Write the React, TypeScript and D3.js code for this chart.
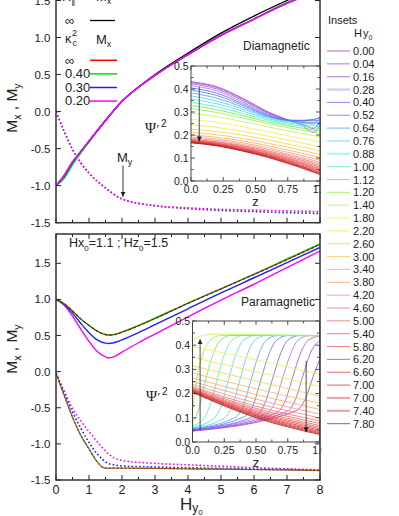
import React from 'react';
import * as d3 from 'd3';

// ---- main panels: Mx, My vs Hy0 ----
const topMxH = [0, 0.25, 0.5, 0.75, 1, 1.5, 2, 2.5, 3, 4, 5, 6, 7, 8];
const topMxBlack = [-1.0, -0.86, -0.68, -0.54, -0.40, -0.12, 0.14, 0.33, 0.50, 0.79, 1.06, 1.29, 1.50, 1.70];
const topMxRed = [-1.0, -0.87, -0.69, -0.54, -0.40, -0.12, 0.14, 0.33, 0.49, 0.77, 1.03, 1.25, 1.47, 1.65];
const topMxGreen = [-1.0, -0.90, -0.72, -0.56, -0.41, -0.12, 0.14, 0.33, 0.49, 0.77, 1.03, 1.25, 1.47, 1.65];
const topMxBlue = [-1.0, -0.87, -0.69, -0.54, -0.40, -0.12, 0.14, 0.33, 0.49, 0.77, 1.03, 1.25, 1.46, 1.64];
const topMxMagenta = [-1.0, -0.86, -0.68, -0.54, -0.40, -0.12, 0.14, 0.33, 0.49, 0.77, 1.03, 1.25, 1.46, 1.64];

const topMyH = [0, 0.25, 0.5, 0.75, 1, 1.5, 2, 3, 4, 5, 6, 7, 8];
const topMyMagenta = [0, -0.27, -0.51, -0.69, -0.83, -1.03, -1.18, -1.27, -1.30, -1.32, -1.33, -1.34, -1.35];
const topMyDark = [0, -0.27, -0.51, -0.69, -0.83, -1.03, -1.18, -1.27, -1.31, -1.335, -1.35, -1.365, -1.375];

const botMxH = [0, 0.25, 0.5, 0.75, 1, 1.25, 1.5, 1.6, 1.75, 2, 2.5, 3, 4, 5, 6, 7, 8];
const botMxGreen = [1.0, 0.94, 0.84, 0.73, 0.64, 0.56, 0.515, 0.51, 0.515, 0.55, 0.64, 0.74, 0.95, 1.15, 1.35, 1.56, 1.77];
const botMxRed = [1.0, 0.94, 0.84, 0.73, 0.64, 0.56, 0.512, 0.505, 0.51, 0.545, 0.635, 0.735, 0.945, 1.145, 1.345, 1.55, 1.76];
const botMxBlue = [1.0, 0.93, 0.81, 0.67, 0.54, 0.44, 0.395, 0.39, 0.40, 0.44, 0.54, 0.65, 0.87, 1.09, 1.30, 1.51, 1.72];
const botMxMagenta = [1.0, 0.92, 0.77, 0.59, 0.42, 0.28, 0.205, 0.19, 0.205, 0.27, 0.40, 0.52, 0.76, 0.99, 1.21, 1.44, 1.67];

const botMyH = [0, 0.25, 0.5, 0.75, 1, 1.25, 1.4, 1.5, 1.75, 2, 3, 4, 5, 6, 7, 8];
const botMyGreen = [-0.02, -0.33, -0.63, -0.88, -1.07, -1.25, -1.32, -1.335, -1.335, -1.335, -1.34, -1.345, -1.35, -1.355, -1.36, -1.37];
const botMyBlue = [-0.02, -0.30, -0.56, -0.78, -0.98, -1.14, -1.21, -1.25, -1.29, -1.305, -1.32, -1.33, -1.34, -1.35, -1.355, -1.365];
const botMyMagenta = [-0.02, -0.27, -0.51, -0.68, -0.83, -0.97, -1.05, -1.10, -1.19, -1.23, -1.27, -1.29, -1.31, -1.33, -1.345, -1.36];

const kappaLabels = ['\u221E', '0.40', '0.30', '0.20'];
const kappaColors = ['#ff0000', '#00e000', '#2020ff', '#ff00ff'];

// ---- insets: Psi'^2 vs z ----
const legendHy = ['0.00', '0.04', '0.16', '0.28', '0.40', '0.52', '0.64', '0.76', '0.88', '1.00', '1.12', '1.20', '1.40', '1.80', '2.20', '2.60', '3.00', '3.40', '3.80', '4.20', '4.60', '5.00', '5.40', '5.80', '6.20', '6.60', '7.00', '7.00', '7.40', '7.80'];
const insetColors = ['#a040b0', '#b040e0', '#9050e0', '#9a7af0', '#6a5af0', '#4a7af0', '#4aa0f0', '#50c8f0', '#40e0e8', '#50f0a0', '#60e860', '#90f040', '#c0f050', '#f0f050', '#f8e840', '#f8d040', '#f8c040', '#f8a860', '#f89870', '#f88880', '#f07070', '#f06060', '#f05858', '#f05050', '#e84040', '#e03838', '#d83030', '#d02828', '#c82020', '#b01818'];

const diaZ = [0, 0.2, 0.4, 0.6, 0.75, 0.85, 0.95, 1.0];
const diaCurves = [
  [0.432, 0.410, 0.360, 0.300, 0.266, 0.245, 0.212, 0.245],
  [0.428, 0.406, 0.356, 0.297, 0.265, 0.250, 0.228, 0.262],
  [0.423, 0.400, 0.350, 0.293, 0.264, 0.256, 0.250, 0.275],
  [0.415, 0.392, 0.343, 0.289, 0.264, 0.262, 0.266, 0.280],
  [0.405, 0.382, 0.336, 0.285, 0.265, 0.264, 0.268, 0.275],
  [0.395, 0.372, 0.329, 0.282, 0.264, 0.262, 0.262, 0.265],
  [0.383, 0.360, 0.321, 0.279, 0.262, 0.258, 0.255, 0.255],
  [0.370, 0.348, 0.313, 0.275, 0.258, 0.252, 0.248, 0.247],
  [0.356, 0.336, 0.304, 0.270, 0.253, 0.246, 0.240, 0.238],
  [0.342, 0.323, 0.294, 0.264, 0.247, 0.239, 0.232, 0.229],
  [0.328, 0.310, 0.284, 0.257, 0.240, 0.231, 0.223, 0.219],
  [0.315, 0.298, 0.274, 0.249, 0.232, 0.222, 0.213, 0.208],
  [0.295, 0.280, 0.258, 0.235, 0.218, 0.207, 0.197, 0.192],
  [0.268, 0.255, 0.236, 0.214, 0.197, 0.186, 0.175, 0.169],
  [0.245, 0.233, 0.216, 0.195, 0.178, 0.167, 0.155, 0.149],
  [0.226, 0.215, 0.199, 0.178, 0.161, 0.149, 0.137, 0.130],
  [0.211, 0.201, 0.185, 0.164, 0.147, 0.135, 0.122, 0.115],
  [0.200, 0.190, 0.174, 0.153, 0.135, 0.122, 0.109, 0.102],
  [0.192, 0.182, 0.166, 0.144, 0.125, 0.112, 0.098, 0.091],
  [0.186, 0.176, 0.159, 0.137, 0.117, 0.104, 0.089, 0.082],
  [0.182, 0.171, 0.154, 0.131, 0.111, 0.097, 0.082, 0.074],
  [0.179, 0.168, 0.150, 0.126, 0.105, 0.091, 0.075, 0.067],
  [0.177, 0.165, 0.147, 0.122, 0.100, 0.085, 0.069, 0.061],
  [0.175, 0.163, 0.144, 0.118, 0.096, 0.080, 0.063, 0.055],
  [0.173, 0.161, 0.141, 0.115, 0.092, 0.076, 0.058, 0.050],
  [0.171, 0.159, 0.139, 0.112, 0.088, 0.071, 0.053, 0.045],
  [0.170, 0.157, 0.136, 0.109, 0.085, 0.067, 0.048, 0.040],
  [0.169, 0.156, 0.134, 0.107, 0.082, 0.064, 0.045, 0.036],
  [0.167, 0.154, 0.132, 0.104, 0.079, 0.061, 0.041, 0.032],
  [0.166, 0.153, 0.130, 0.102, 0.076, 0.058, 0.038, 0.028],
];

// [z, psi'^2] points for each Hy0 in the paramagnetic inset
const paraCurves: [number, number][][] = [
  [[0, 0.045], [0.82, 0.13], [0.89, 0.18], [0.95, 0.27], [1, 0.34]],
  [[0, 0.046], [0.74, 0.125], [0.81, 0.175], [0.87, 0.275], [0.93, 0.37], [1, 0.42]],
  [[0, 0.048], [0.66, 0.12], [0.73, 0.17], [0.79, 0.27], [0.85, 0.365], [0.91, 0.42], [1, 0.438]],
  [[0, 0.05], [0.58, 0.115], [0.65, 0.165], [0.71, 0.265], [0.77, 0.36], [0.83, 0.42], [0.92, 0.44], [1, 0.44]],
  [[0, 0.05], [0.5, 0.11], [0.57, 0.16], [0.63, 0.26], [0.69, 0.36], [0.75, 0.42], [0.84, 0.44], [1, 0.44]],
  [[0, 0.053], [0.41, 0.105], [0.48, 0.155], [0.54, 0.26], [0.6, 0.36], [0.66, 0.42], [0.75, 0.44], [1, 0.44]],
  [[0, 0.055], [0.33, 0.1], [0.4, 0.15], [0.46, 0.255], [0.52, 0.36], [0.58, 0.42], [0.67, 0.44], [1, 0.44]],
  [[0, 0.058], [0.24, 0.095], [0.31, 0.145], [0.37, 0.25], [0.43, 0.36], [0.49, 0.42], [0.58, 0.44], [1, 0.44]],
  [[0, 0.062], [0.15, 0.09], [0.22, 0.14], [0.28, 0.25], [0.34, 0.36], [0.4, 0.42], [0.49, 0.44], [1, 0.44]],
  [[0, 0.068], [0.08, 0.09], [0.13, 0.14], [0.19, 0.25], [0.25, 0.36], [0.31, 0.42], [0.4, 0.44], [1, 0.44]],
  [[0, 0.08], [0.04, 0.12], [0.1, 0.25], [0.16, 0.36], [0.22, 0.42], [0.3, 0.44], [1, 0.44]],
  [[0, 0.13], [0.03, 0.25], [0.08, 0.36], [0.14, 0.42], [0.22, 0.44], [0.5, 0.443], [1, 0.44]],
  [[0, 0.42], [0.08, 0.44], [0.18, 0.446], [0.4, 0.443], [0.7, 0.44], [1, 0.438]],
  [[0, 0.395], [0.5, 0.34], [1, 0.28]],
  [[0, 0.35], [0.5, 0.29], [1, 0.23]],
  [[0, 0.315], [0.5, 0.252], [1, 0.19]],
  [[0, 0.285], [0.5, 0.22], [1, 0.16]],
  [[0, 0.265], [0.5, 0.196], [1, 0.135]],
  [[0, 0.25], [0.5, 0.177], [1, 0.115]],
  [[0, 0.238], [0.5, 0.161], [1, 0.10]],
  [[0, 0.229], [0.5, 0.148], [1, 0.087]],
  [[0, 0.224], [0.5, 0.139], [1, 0.077]],
  [[0, 0.22], [0.5, 0.132], [1, 0.068]],
  [[0, 0.217], [0.5, 0.126], [1, 0.061]],
  [[0, 0.215], [0.5, 0.121], [1, 0.055]],
  [[0, 0.213], [0.5, 0.116], [1, 0.049]],
  [[0, 0.211], [0.5, 0.112], [1, 0.044]],
  [[0, 0.209], [0.5, 0.108], [1, 0.039]],
  [[0, 0.207], [0.5, 0.104], [1, 0.035]],
  [[0, 0.205], [0.5, 0.100], [1, 0.031]],
];

const FONT = 'Liberation Sans, Arial, sans-serif';
const INK = '#222';

const x = d3.scaleLinear().domain([0, 8]).range([56, 320]);
const yTop = d3.scaleLinear().domain([-1.5, 1.5]).range([222.7, 0.5]);
const yBot = d3.scaleLinear().domain([-1.5, 1.5]).range([480, 263.3]);

const zDia = d3.scaleLinear().domain([0, 1]).range([191, 320]);
const pDia = d3.scaleLinear().domain([0, 0.5]).range([181, 66]);
const zPara = d3.scaleLinear().domain([0, 1]).range([192.5, 319.5]);
const pPara = d3.scaleLinear().domain([0, 0.5]).range([442, 321]);

function path(xs: number[], ys: number[], sx: any, sy: any) {
  return d3.line<number>()
    .x((_, i) => sx(xs[i]))
    .y((d) => sy(d))
    .curve(d3.curveMonotoneX)(ys) || '';
}

function pairPath(pts: [number, number][], sx: any, sy: any) {
  return d3.line<[number, number]>()
    .x((d) => sx(d[0]))
    .y((d) => sy(d[1]))
    .curve(d3.curveMonotoneX)(pts) || '';
}

function MainAxes({ y, top, bottom, labels }: { y: any; top: number; bottom: number; labels: boolean }) {
  const yt = [-1.5, -1, -0.5, 0, 0.5, 1, 1.5];
  const xMajor = x.ticks(8);
  const xMinor = x.ticks(16);
  return (
    <g fontFamily={FONT} fill={INK}>
      {yt.map((v) => (
        <g key={v}>
          <line x1={56} x2={61} y1={y(v)} y2={y(v)} stroke={INK} strokeWidth={1} />
          <line x1={320} x2={315} y1={y(v)} y2={y(v)} stroke={INK} strokeWidth={1} />
          <text x={50.5} y={y(v) + 4} fontSize={11.5} textAnchor="end">{v.toFixed(1)}</text>
        </g>
      ))}
      {xMinor.map((v) => {
        const len = xMajor.includes(v) ? 5 : 3;
        return (
          <g key={v}>
            <line x1={x(v)} x2={x(v)} y1={bottom} y2={bottom - len} stroke={INK} strokeWidth={1} />
            <line x1={x(v)} x2={x(v)} y1={top} y2={top + len} stroke={INK} strokeWidth={1} />
          </g>
        );
      })}
      {labels && xMajor.map((v) => (
        <text key={v} x={x(v)} y={bottom + 13.5} fontSize={12.5} textAnchor="middle">{v}</text>
      ))}
      <rect x={56} y={top} width={264} height={bottom - top} fill="none" stroke="#333" strokeWidth={1.5} />
    </g>
  );
}

function InsetAxes({ sz, sp }: { sz: any; sp: any }) {
  const [l, r] = sz.range();
  const [b, t] = sp.range();
  const zMinor = d3.range(0, 1.001, 0.125);
  const pMinor = d3.range(0, 0.501, 0.05);
  const zLab = ['0.0', '0.25', '0.50', '0.75', '1.0'];
  return (
    <g fontFamily={FONT} fill={INK}>
      {zMinor.map((v, i) => {
        const len = i % 2 === 0 ? 4 : 2.5;
        return (
          <g key={v}>
            <line x1={sz(v)} x2={sz(v)} y1={b} y2={b - len} stroke={INK} strokeWidth={0.8} />
            <line x1={sz(v)} x2={sz(v)} y1={t} y2={t + len} stroke={INK} strokeWidth={0.8} />
          </g>
        );
      })}
      {pMinor.map((v, i) => {
        const len = i % 2 === 0 ? 4 : 2.5;
        return (
          <g key={v}>
            <line x1={l} x2={l + len} y1={sp(v)} y2={sp(v)} stroke={INK} strokeWidth={0.8} />
            <line x1={r} x2={r - len} y1={sp(v)} y2={sp(v)} stroke={INK} strokeWidth={0.8} />
          </g>
        );
      })}
      {[0, 0.1, 0.2, 0.3, 0.4, 0.5].map((v) => (
        <text key={v} x={l - 2.5} y={sp(v) + 3.8} fontSize={10.5} textAnchor="end">{v.toFixed(1)}</text>
      ))}
      {[0, 0.25, 0.5, 0.75, 1].map((v, i) => (
        <text key={v} x={sz(v)} y={b + 11.5} fontSize={10.5} textAnchor="middle">{zLab[i]}</text>
      ))}
      <text x={(l + r) / 2} y={b + 25} fontSize={13} textAnchor="middle">z</text>
      <rect x={l} y={t} width={r - l} height={b - t} fill="none" stroke="#444" strokeWidth={1} />
    </g>
  );
}

function PsiLabel({ xPos, yPos }: { xPos: number; yPos: number }) {
  return (
    <text x={xPos} y={yPos} fontSize={15} fontFamily="Liberation Serif, DejaVu Serif, serif" fill={INK}>
      {'\u03A8'}<tspan dx={0.5} fontSize={13}>{'\u2032'}</tspan><tspan dx={1.5} dy={-6} fontSize={10} fontFamily={FONT}>2</tspan>
    </text>
  );
}

function YTitle({ cy }: { cy: number }) {
  return (
    <text transform={`translate(17,${cy}) rotate(-90)`} textAnchor="middle" fontSize={15.5} fontFamily={FONT} fill={INK}>
      M<tspan dy={4} fontSize={10.5}>x</tspan><tspan dy={-4}> , M</tspan><tspan dy={4} fontSize={10.5}>y</tspan>
    </text>
  );
}

export default function App() {
  const dotted = '1.6 2.2';
  return (
    <div style={{ position: 'absolute', left: 0, top: 0 }}>
      <svg width={399} height={516} style={{ display: 'block', background: '#fff' }}>
        <defs>
          <clipPath id="clipTop"><rect x={56} y={-40} width={264} height={262.7} /></clipPath>
          <clipPath id="clipBot"><rect x={56} y={234} width={264} height={246} /></clipPath>
          <clipPath id="clipDia"><rect x={191} y={66} width={129} height={115} /></clipPath>
          <clipPath id="clipPara"><rect x={192.5} y={321} width={127} height={121} /></clipPath>
          <marker id="ah" viewBox="0 0 10 10" refX={10} refY={5} markerWidth={5} markerHeight={6}
            markerUnits="userSpaceOnUse" orient="auto">
            <path d="M0,0L10,5L0,10z" fill="#222" />
          </marker>
        </defs>

        {/* ---------- top panel (diamagnetic) ---------- */}
        <g clipPath="url(#clipTop)" fill="none">
          <path d={path(topMyH, topMyDark, x, yTop)} stroke="#3030a0" strokeWidth={1.6} strokeDasharray={dotted} />
          <path d={path(topMyH, topMyMagenta, x, yTop)} stroke="#ff00ff" strokeWidth={1.6} strokeDasharray={dotted} />
          <path d={path(topMxH, topMxBlack, x, yTop)} stroke="#000" strokeWidth={1.3} />
          <path d={path(topMxH, topMxRed, x, yTop)} stroke={kappaColors[0]} strokeWidth={1.4} />
          <path d={path(topMxH, topMxGreen, x, yTop)} stroke={kappaColors[1]} strokeWidth={1.4} />
          <path d={path(topMxH, topMxBlue, x, yTop)} stroke={kappaColors[2]} strokeWidth={1.4} />
          <path d={path(topMxH, topMxMagenta, x, yTop)} stroke={kappaColors[3]} strokeWidth={1.4} />
        </g>
        <MainAxes y={yTop} top={-40} bottom={222.7} labels={false} />

        {/* legend of the top panel */}
        <g fontFamily={FONT} fill={INK} fontSize={13}>
          <text x={62} y={1}>H<tspan dy={3} fontSize={9}>{'\u2225'}</tspan></text>
          <text x={96} y={1}>M<tspan dy={3} fontSize={9}>x</tspan></text>
          <text x={65} y={24.5}>{'\u221E'}</text>
          <line x1={90} x2={115} y1={20.5} y2={20.5} stroke="#000" strokeWidth={1.3} />
          <text x={65} y={43}>{'\u03BA'}<tspan dx={1} dy={3} fontSize={9}>c</tspan><tspan dx={-5} dy={-10} fontSize={9}>2</tspan></text>
          <text x={96} y={44}>M<tspan dy={3} fontSize={9}>x</tspan></text>
          {kappaLabels.map((lab, i) => (
            <g key={lab}>
              <text x={65} y={64.5 + i * 13.6}>{lab}</text>
              <line x1={90} x2={117} y1={60.3 + i * 13.6} y2={60.3 + i * 13.6} stroke={kappaColors[i]} strokeWidth={1.5} />
            </g>
          ))}
          <text x={243} y={50} fontSize={12}>Diamagnetic</text>
          <text x={117} y={161.5}>M<tspan dy={3} fontSize={9}>y</tspan></text>
          <line x1={x(2.03)} x2={x(2.03)} y1={yTop(-0.73)} y2={yTop(-1.15)} stroke="#222" strokeWidth={0.9} markerEnd="url(#ah)" />
        </g>

        {/* ---------- bottom panel (paramagnetic) ---------- */}
        <g clipPath="url(#clipBot)" fill="none">
          <path d={path(botMyH, botMyMagenta, x, yBot)} stroke="#ff00ff" strokeWidth={1.6} strokeDasharray={dotted} />
          <path d={path(botMyH, botMyBlue, x, yBot)} stroke="#2020ff" strokeWidth={1.6} strokeDasharray={dotted} />
          <path d={path(botMyH, botMyGreen, x, yBot)} stroke="#30a030" strokeWidth={1.3} />
          <path d={path(botMyH, botMyGreen, x, yBot)} stroke="#ff0000" strokeWidth={1.1} strokeDasharray="2 2" />
          <path d={path(botMxH, botMxMagenta, x, yBot)} stroke={kappaColors[3]} strokeWidth={1.4} />
          <path d={path(botMxH, botMxBlue, x, yBot)} stroke={kappaColors[2]} strokeWidth={1.4} />
          <path d={path(botMxH, botMxGreen, x, yBot)} stroke={kappaColors[1]} strokeWidth={1.4} />
          <path d={path(botMxH, botMxRed, x, yBot)} stroke={kappaColors[0]} strokeWidth={1.2} strokeDasharray="3 2" />
          <path d={path(botMxH, botMxRed, x, yBot)} stroke="#222" strokeWidth={0.6} />
        </g>
        <MainAxes y={yBot} top={234} bottom={480} labels={true} />
        <g fontFamily={FONT} fill={INK}>
          <text x={69} y={247} fontSize={12.5}>
            Hx<tspan dy={3.5} fontSize={8}>0</tspan><tspan dy={-3.5}>=1.1 ; Hz</tspan><tspan dy={3.5} fontSize={8}>0</tspan><tspan dy={-3.5}>=1.5</tspan>
          </text>
          <text x={241} y={306} fontSize={12}>Paramagnetic</text>
          <text x={180} y={510} fontSize={17}>H<tspan dy={2} fontSize={12}>y</tspan><tspan dy={3} fontSize={8}>0</tspan></text>
        </g>
        <YTitle cy={108} />
        <YTitle cy={349} />

        {/* ---------- diamagnetic inset ---------- */}
        <rect x={191} y={66} width={129} height={115} fill="#fff" />
        <g clipPath="url(#clipDia)" fill="none">
          {diaCurves.map((c, i) => (
            <path key={i} d={path(diaZ, c, zDia, pDia)} stroke={insetColors[i]} strokeWidth={0.8} />
          ))}
        </g>
        <line x1={zDia(0.064)} x2={zDia(0.064)} y1={pDia(0.41)} y2={pDia(0.172)} stroke="#222" strokeWidth={0.8} markerEnd="url(#ah)" />
        <InsetAxes sz={zDia} sp={pDia} />
        <PsiLabel xPos={145} yPos={133} />

        {/* ---------- paramagnetic inset ---------- */}
        <rect x={192.5} y={321} width={127} height={121} fill="#fff" />
        <g clipPath="url(#clipPara)" fill="none">
          {paraCurves.map((c, i) => (
            <path key={i} d={pairPath(c, zPara, pPara)} stroke={insetColors[i]} strokeWidth={0.8} />
          ))}
        </g>
        <line x1={zPara(0.06)} x2={zPara(0.06)} y1={pPara(0.05)} y2={pPara(0.425)} stroke="#222" strokeWidth={0.8} markerEnd="url(#ah)" />
        <line x1={zPara(0.895)} x2={zPara(0.895)} y1={pPara(0.335)} y2={pPara(0.04)} stroke="#222" strokeWidth={0.8} markerEnd="url(#ah)" />
        <InsetAxes sz={zPara} sp={pPara} />
        <PsiLabel xPos={146} yPos={401} />

        {/* ---------- right legend ---------- */}
        <rect x={321.5} y={0} width={78} height={481} fill="#fff" />
        <g fontFamily={FONT} fill={INK}>
          <text x={328} y={24} fontSize={11}>Insets</text>
          <text x={354} y={37} fontSize={11}>H<tspan dx={1}>y</tspan><tspan dy={3} fontSize={7}>0</tspan></text>
          {legendHy.map((lab, i) => {
            const yy = 51 + i * 12.85;
            const thick = i === 3 || i === 8 || i === 27 || i === 28;
            return (
              <g key={i}>
                <line x1={327} x2={350} y1={yy} y2={yy} stroke={insetColors[i]}
                  strokeOpacity={thick ? 0.4 : 0.7} strokeWidth={thick ? 2.2 : 1.1} />
                <text x={353} y={yy + 4} fontSize={11}>{lab}</text>
              </g>
            );
          })}
        </g>
      </svg>
    </div>
  );
}
